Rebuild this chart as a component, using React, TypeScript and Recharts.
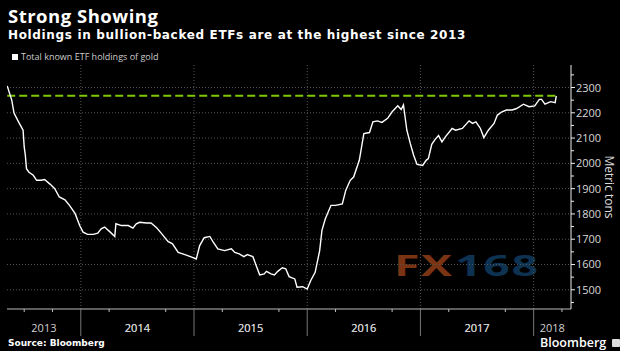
import React from 'react';
import { LineChart, Line, XAxis, YAxis, CartesianGrid, ReferenceLine } from 'recharts';

// dates as fractional years
const dates = [
  2013.35, 2013.39, 2013.41, 2013.45, 2013.49, 2013.50, 2013.51, 2013.52, 2013.54, 2013.58,
  2013.61, 2013.65, 2013.68, 2013.73, 2013.77, 2013.81, 2013.86, 2013.90, 2013.95, 2013.99,
  2014.02, 2014.06, 2014.11, 2014.15, 2014.18, 2014.21, 2014.26, 2014.30, 2014.31, 2014.36,
  2014.42, 2014.46, 2014.49, 2014.52, 2014.58, 2014.62, 2014.67, 2014.71, 2014.77, 2014.81,
  2014.86, 2014.92, 2014.98, 2015.02, 2015.05, 2015.09, 2015.14, 2015.17, 2015.21, 2015.27,
  2015.33, 2015.36, 2015.40, 2015.44, 2015.47, 2015.52, 2015.58, 2015.62, 2015.64, 2015.68,
  2015.71, 2015.74, 2015.78, 2015.81, 2015.84, 2015.89, 2015.91, 2015.96, 2016.00, 2016.03,
  2016.07, 2016.11, 2016.13, 2016.16, 2016.21, 2016.25, 2016.31, 2016.34, 2016.38, 2016.41,
  2016.46, 2016.50, 2016.55, 2016.58, 2016.62, 2016.66, 2016.71, 2016.75, 2016.80, 2016.83,
  2016.85, 2016.88, 2016.91, 2016.94, 2016.97, 2017.02, 2017.05, 2017.07, 2017.10, 2017.13,
  2017.16, 2017.19, 2017.22, 2017.28, 2017.31, 2017.37, 2017.43, 2017.46, 2017.49, 2017.53,
  2017.56, 2017.60, 2017.65, 2017.68, 2017.72, 2017.76, 2017.81, 2017.85, 2017.91, 2017.96,
  2018.01, 2018.05, 2018.07, 2018.10, 2018.15, 2018.19, 2018.20,
];

const tons = [
  2306, 2250, 2199, 2164, 2131, 2065, 2032, 1979, 1966, 1953,
  1933, 1933, 1936, 1917, 1900, 1867, 1856, 1834, 1801, 1754,
  1728, 1719, 1719, 1724, 1741, 1748, 1728, 1711, 1761, 1754,
  1754, 1744, 1761, 1767, 1764, 1764, 1745, 1724, 1691, 1682,
  1648, 1639, 1629, 1622, 1675, 1706, 1711, 1688, 1662, 1655,
  1662, 1648, 1642, 1631, 1639, 1631, 1559, 1563, 1573, 1563,
  1559, 1573, 1587, 1583, 1552, 1543, 1510, 1512, 1503, 1536,
  1569, 1655, 1735, 1781, 1834, 1834, 1840, 1893, 1933, 1946,
  2012, 2118, 2122, 2164, 2168, 2162, 2178, 2204, 2228, 2213,
  2231, 2131, 2079, 2032, 1996, 1992, 2012, 2019, 2075, 2095,
  2110, 2085, 2105, 2138, 2131, 2138, 2168, 2158, 2164, 2138,
  2102, 2131, 2158, 2191, 2204, 2211, 2211, 2217, 2234, 2224,
  2227, 2253, 2253, 2234, 2244, 2240, 2267,
];

const latest = 2267;
const yearStarts = [2014, 2015, 2016, 2017, 2018];
const yearLabels = ['2013', '2014', '2015', '2016', '2017', '2018'];
const yearLabelPos = [2013.674, 2014.5, 2015.5, 2016.5, 2017.5, 2018.165];
const quarterTicks = [2013.5, 2013.75, 2014.25, 2014.5, 2014.75, 2015.25, 2015.5, 2015.75,
  2016.25, 2016.5, 2016.75, 2017.25, 2017.5, 2017.75, 2018.25];
const yTicks = [1450, 1500, 1550, 1600, 1650, 1700, 1750, 1800, 1850, 1900, 1950, 2000,
  2050, 2100, 2150, 2200, 2250, 2300, 2350];

const data = dates.map((d, i) => ({ t: d, v: tons[i] }));
const font = '"Open Sans", "DejaVu Sans", sans-serif';
const wide = '"DejaVu Sans", sans-serif';

const XTick = ({ x, y, payload }: any) => {
  const v = payload.value;
  const li = yearLabelPos.indexOf(v);
  if (li >= 0) {
    return (
      <text x={x} y={y + 23} textAnchor="middle" fill="#d0d0d0" fontSize={11} fontFamily={font}>
        {yearLabels[li]}
      </text>
    );
  }
  if (yearStarts.includes(v)) {
    return <line x1={x} y1={y} x2={x} y2={y + 27} stroke="#777" strokeWidth={1} />;
  }
  return <line x1={x} y1={y} x2={x} y2={y + 3} stroke="#bbb" strokeWidth={1} />;
};

const YTick = ({ x, y, payload }: any) => {
  const v = payload.value;
  const major = v % 100 === 0;
  return (
    <g>
      <line x1={x} y1={y} x2={x + (major ? 4 : 3)} y2={y} stroke="#eee" strokeWidth={1} />
      {major && (
        <text x={x + 5} y={y + 4} fill="#d8d8d8" fontSize={11} fontFamily={font}>
          {v}
        </text>
      )}
    </g>
  );
};

export default function App() {
  return (
    <div style={{ position: 'absolute', left: 0, top: 0, width: 620, height: 351, background: '#000', overflow: 'hidden', fontFamily: font }}>
      <div style={{ position: 'absolute', left: 8, top: 7, color: '#fff', fontSize: 18.5, lineHeight: 1, fontWeight: 700, letterSpacing: 0.5, whiteSpace: 'nowrap' }}>
        Strong Showing
      </div>
      <div style={{ position: 'absolute', left: 8, top: 29, color: '#fff', fontFamily: wide, fontSize: 12, lineHeight: 1, fontWeight: 700, letterSpacing: 0.65, whiteSpace: 'nowrap' }}>
        Holdings in bullion-backed ETFs are at the highest since 2013
      </div>
      <div style={{ position: 'absolute', left: 12, top: 50, color: '#ccc', fontSize: 9, whiteSpace: 'nowrap', display: 'flex', alignItems: 'center' }}>
        <span style={{ display: 'inline-block', width: 6, height: 6, background: '#fff', marginRight: 3 }} />
        Total known ETF holdings of gold
      </div>
      <div style={{ position: 'absolute', left: 394, top: 245, fontSize: 29, fontWeight: 700, whiteSpace: 'nowrap', letterSpacing: 1, transform: 'scaleX(1.6)', transformOrigin: 'left' }}>
        <span style={{ color: '#7a3413' }}>FX</span>
        <span style={{ color: '#0e3252', marginLeft: 1 }}>168</span>
      </div>
      <LineChart width={620} height={351} data={data} margin={{ top: 65, right: 0, bottom: 0, left: 7 }} style={{ position: 'absolute', left: 0, top: 0 }}>
        <CartesianGrid stroke="#555" strokeDasharray="1 2" vertical={true} horizontal={true}
          horizontalValues={[1500, 1600, 1700, 1800, 1900, 2000, 2100, 2200, 2300]}
          verticalValues={yearStarts} />
        <XAxis dataKey="t" type="number" domain={[2013.348, 2018.33]} allowDataOverflow
          ticks={[...yearStarts, ...yearLabelPos, ...quarterTicks]} interval={0}
          height={42} tickSize={0} tickMargin={0} tick={<XTick />} axisLine={{ stroke: '#bbb' }} tickLine={false} />
        <YAxis orientation="right" type="number" domain={[1424, 2389]} allowDataOverflow
          ticks={yTicks} interval={0} width={49} tickSize={0} tickMargin={0}
          tick={<YTick />} axisLine={{ stroke: '#eee' }} tickLine={false} />
        <ReferenceLine segment={[{ x: 2013.35, y: latest }, { x: 2018.2, y: latest }]}
          stroke="#80c800" strokeWidth={2} strokeDasharray="8 4" />
        <Line type="linear" dataKey="v" stroke="#fff" strokeWidth={1.4} dot={false} isAnimationActive={false} />
      </LineChart>
      <div style={{ position: 'absolute', left: 609, top: 187, transform: 'translate(-50%, -50%) rotate(90deg)', color: '#ddd', fontSize: 12, whiteSpace: 'nowrap' }}>
        Metric tons
      </div>
      <div style={{ position: 'absolute', left: 8, top: 339, color: '#fff', fontFamily: wide, fontSize: 9, lineHeight: 1, fontWeight: 700, whiteSpace: 'nowrap' }}>
        Source: Bloomberg
      </div>
      <div style={{ position: 'absolute', left: 540, top: 337, color: '#fff', fontSize: 12.5, lineHeight: 1, fontWeight: 600, whiteSpace: 'nowrap', display: 'flex', alignItems: 'center' }}>
        Bloomberg
        <span style={{ display: 'inline-block', width: 8, height: 8, background: '#ddd', marginLeft: 6, borderRadius: 1 }} />
      </div>
    </div>
  );
}
